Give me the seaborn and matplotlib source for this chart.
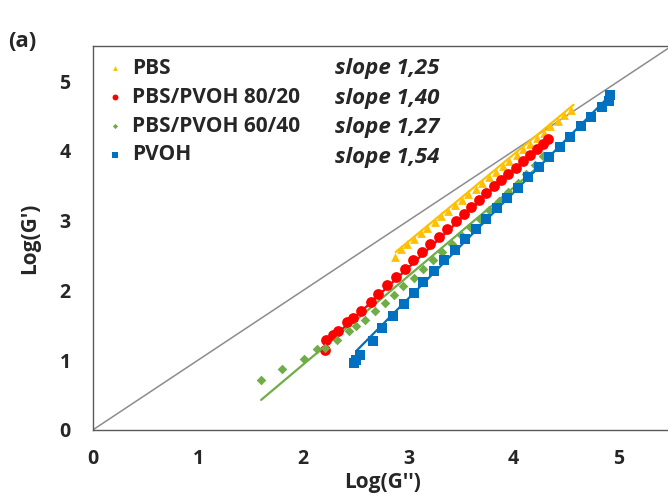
import pandas as pd
import numpy as np
import matplotlib
matplotlib.use('Agg')
import matplotlib.pyplot as plt
import seaborn as sns


# data: log G'' (x) and log G' (y)
pbs_x = [2.87, 2.93, 2.99, 3.05, 3.12, 3.18, 3.25, 3.31, 3.38, 3.44, 3.51, 3.57, 3.64, 3.70,
         3.77, 3.83, 3.90, 3.96, 4.03, 4.09, 4.16, 4.22, 4.29, 4.35, 4.42, 4.48, 4.55]
pbs_y = [2.48, 2.60, 2.67, 2.74, 2.82, 2.90, 2.98, 3.06, 3.14, 3.22, 3.30, 3.38, 3.46, 3.54,
         3.62, 3.70, 3.78, 3.86, 3.94, 4.02, 4.10, 4.18, 4.26, 4.35, 4.43, 4.51, 4.59]

b80_x = [2.21, 2.22, 2.28, 2.33, 2.42, 2.47, 2.55, 2.64, 2.71, 2.80, 2.88, 2.97, 3.04, 3.13,
         3.21, 3.29, 3.37, 3.45, 3.53, 3.60, 3.67, 3.74, 3.81, 3.88, 3.95, 4.02, 4.09, 4.16,
         4.22, 4.28, 4.33]
b80_y = [1.15, 1.29, 1.36, 1.42, 1.54, 1.61, 1.71, 1.83, 1.95, 2.08, 2.19, 2.31, 2.43, 2.55,
         2.66, 2.77, 2.88, 2.99, 3.10, 3.20, 3.30, 3.40, 3.49, 3.58, 3.67, 3.76, 3.85, 3.94,
         4.02, 4.10, 4.17]

b60_x = [1.60, 1.80, 2.01, 2.13, 2.21, 2.32, 2.44, 2.50, 2.59, 2.68, 2.78, 2.86, 2.95, 3.05,
         3.14, 3.23, 3.32, 3.41, 3.50, 3.59, 3.68, 3.77, 3.86, 3.95, 4.04, 4.12, 4.20, 4.28]
b60_y = [0.72, 0.87, 1.02, 1.16, 1.18, 1.29, 1.42, 1.49, 1.58, 1.71, 1.82, 1.94, 2.06, 2.18,
         2.31, 2.43, 2.55, 2.67, 2.79, 2.91, 3.03, 3.15, 3.28, 3.41, 3.54, 3.67, 3.80, 3.93]

pvoh_x = [2.48, 2.50, 2.54, 2.66, 2.75, 2.85, 2.96, 3.05, 3.14, 3.24, 3.34, 3.44, 3.54, 3.64,
          3.74, 3.84, 3.94, 4.04, 4.14, 4.24, 4.34, 4.44, 4.54, 4.64, 4.74, 4.84, 4.91, 4.92]
pvoh_y = [0.96, 1.00, 1.08, 1.27, 1.46, 1.63, 1.80, 1.96, 2.12, 2.28, 2.43, 2.58, 2.73, 2.88,
          3.03, 3.18, 3.33, 3.47, 3.62, 3.77, 3.91, 4.06, 4.20, 4.35, 4.49, 4.63, 4.72, 4.80]

# power-law fit lines (end points)
fit_pbs = ([2.88, 4.57], [2.55, 4.66])
fit_b80 = ([2.21, 4.33], [1.22, 4.19])
fit_b60 = ([1.60, 4.28], [0.43, 3.83])
fit_pvoh = ([2.51, 4.92], [1.14, 4.80])

names = ['PBS', 'PBS/PVOH 80/20', 'PBS/PVOH 60/40', 'PVOH']
slopes = ['slope 1,25', 'slope 1,40', 'slope 1,27', 'slope 1,54']
colors = ['#FFC000', '#FF0000', '#70AD47', '#0070C0']
markers = ['^', 'o', 'D', 's']
sizes = [40, 60, 24, 55]

series = [(pbs_x, pbs_y, fit_pbs), (b80_x, b80_y, fit_b80),
          (b60_x, b60_y, fit_b60), (pvoh_x, pvoh_y, fit_pvoh)]


# plot
sns.set_style('white')
plt.rcParams['font.family'] = ['Open Sans', 'DejaVu Sans']

fig = plt.figure(figsize=(6.68, 4.97), dpi=100)
ax = fig.add_axes([0.139, 0.135, 0.866, 0.772])

lim = [0, 5.5]
ax.plot(lim, lim, color='#8c8c8c', lw=1.1, zorder=1)

for (xs, ys, fit), name, c, m, s in zip(series, names, colors, markers, sizes):
    df = pd.DataFrame({'x': xs, 'y': ys})
    sns.scatterplot(x='x', y='y', data=df, ax=ax, color=c, marker=m, s=s,
                    linewidth=0, label=name, zorder=3)
    fdf = pd.DataFrame({'x': fit[0], 'y': fit[1]})
    sns.lineplot(x='x', y='y', data=fdf, ax=ax, color=c, lw=1.6, zorder=2)

ax.set_xlim(lim)
ax.set_ylim(lim)
ax.set_xticks([0, 1, 2, 3, 4, 5])
ax.set_yticks([0, 1, 2, 3, 4, 5])
ax.tick_params(direction='in', length=5, width=1, color='#595959', labelsize=14)
ax.tick_params(axis='x', pad=14)
ax.tick_params(axis='y', pad=16)
for lab in ax.get_xticklabels() + ax.get_yticklabels():
    lab.set_fontweight('bold')
for sp in ax.spines.values():
    sp.set_color('#595959')
    sp.set_linewidth(1)

ax.set_xlabel("Log(G'')", fontsize=15, fontweight='bold', labelpad=2)
ax.set_ylabel("Log(G')", fontsize=15, fontweight='bold', labelpad=14)

leg = ax.legend(loc='upper left', bbox_to_anchor=(-0.01, 1.0), frameon=False, fontsize=15,
                handletextpad=0.0, labelspacing=0.38, markerscale=0.55, borderaxespad=0.35,
                borderpad=0.2, handlelength=1.6)
for t in leg.get_texts():
    t.set_fontweight('bold')

for i, txt in enumerate(slopes):
    ax.text(0.418, 0.943 - i * 0.078, txt, transform=ax.transAxes, fontsize=16,
            fontweight='bold', fontstyle='italic', va='center', ha='left')

fig.text(0.012, 0.905, '(a)', fontsize=16, fontweight='bold')

fig.savefig('out.png', dpi=100)
